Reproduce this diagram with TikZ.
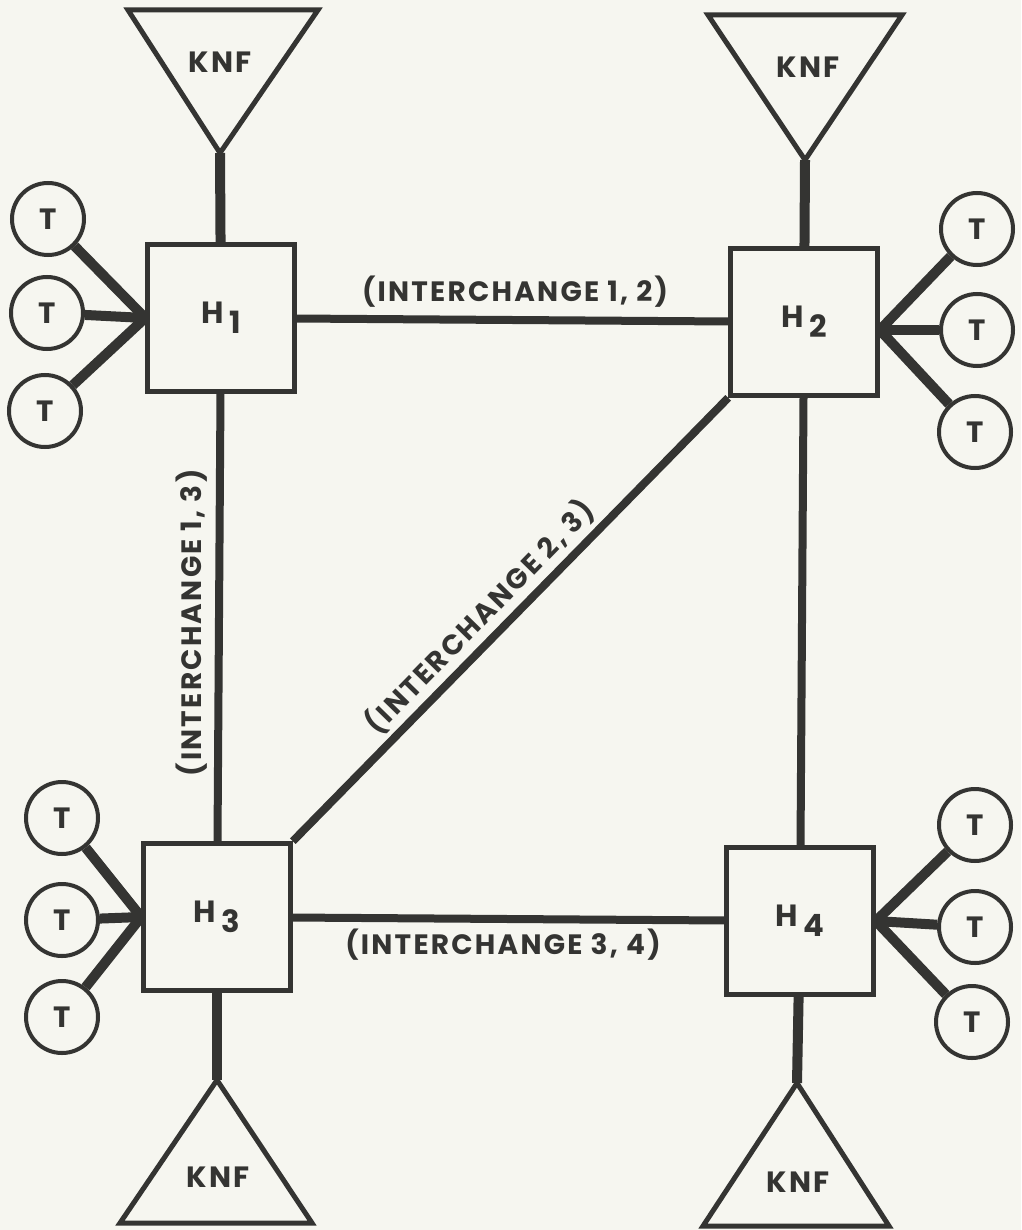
\documentclass[tikz,border=0pt]{standalone}
\usepackage{fontspec}
\newfontfamily\lab{Poppins}[LetterSpace=8]
\newfontfamily\labn{Poppins}
\definecolor{paper}{RGB}{246,246,240}
\definecolor{ink}{RGB}{52,52,50}
\begin{document}
\begin{tikzpicture}[x=0.75pt,y=-0.75pt,
  hub/.style={draw=ink,fill=paper,line width=3.75pt,minimum size=110pt,inner sep=0pt,font=\labn\bfseries\fontsize{23}{23}\selectfont,text=ink},
  term/.style={circle,draw=ink,fill=paper,line width=3pt,minimum size=54pt,inner sep=0pt,font=\labn\bfseries\fontsize{22}{22}\selectfont,text=ink},
  knf/.style={draw=ink,fill=paper,line width=3.75pt,line join=miter},
  knftxt/.style={font=\lab\bfseries\fontsize{22}{22}\selectfont,text=ink,inner sep=0pt},
  stem/.style={draw=ink,line width=7.5pt},
  tlink/.style={draw=ink,line width=7.5pt},
  xlink/.style={draw=ink,line width=6pt},
  lbl/.style={font=\lab\bfseries\fontsize{21}{21}\selectfont,text=ink,inner sep=0pt}
]
\fill[paper] (0,0) rectangle (1021,1230);
\useasboundingbox (0,0) rectangle (1021,1230);

% triangles (KNF)
\draw[knf] (128,10) -- (318,10) -- (220,153) -- cycle;
\coordinate (k1) at (220,153);
\node[knftxt] (k1t) at (220,62) {KNF};
\draw[knf] (708,15) -- (902,15) -- (805,160) -- cycle;
\coordinate (k2) at (805,160);
\node[knftxt] (k2t) at (808,67) {KNF};
\draw[knf] (217,1080) -- (312,1223) -- (120,1223) -- cycle;
\coordinate (k3) at (217,1080);
\node[knftxt] (k3t) at (218,1177) {KNF};
\draw[knf] (797,1083) -- (889,1226) -- (703,1226) -- cycle;
\coordinate (k4) at (797,1083);
\node[knftxt] (k4t) at (798,1182) {KNF};

% hubs
\node[hub] (H1) at (221,318) {H\raisebox{-0.6ex}{\,1}};
\node[hub] (H2) at (804,322) {H\raisebox{-0.6ex}{\,2}};
\node[hub] (H3) at (217,917) {H\raisebox{-0.6ex}{\,3}};
\node[hub] (H4) at (800,921) {H\raisebox{-0.6ex}{\,4}};

% terminals
\node[term] (t11) at (48,219) {T};
\node[term] (t12) at (47,313) {T};
\node[term] (t13) at (45,411) {T};
\node[term] (t21) at (977,229) {T};
\node[term] (t22) at (977,330) {T};
\node[term] (t23) at (975,432) {T};
\node[term] (t31) at (62,818) {T};
\node[term] (t32) at (62,920) {T};
\node[term] (t33) at (62,1017) {T};
\node[term] (t41) at (975,825) {T};
\node[term] (t42) at (975,927) {T};
\node[term] (t43) at (972,1022) {T};

% stems
\path[stem] (H1) -- (k1);
\path[stem] (H2) -- (k2);
\path[stem] (H3) -- (k3);
\path[stem] (H4) -- (k4);

% terminal links
\foreach \t in {t11,t12,t13} \path[tlink] (\t) -- (H1.west);
\foreach \t in {t21,t22,t23} \path[tlink] (\t) -- ([yshift=-6pt]H2.east);
\foreach \t in {t31,t32,t33} \path[tlink] (\t) -- (H3.west);
\foreach \t in {t41,t42,t43} \path[tlink] (\t) -- (H4.east);

% interchanges
\path[xlink] (H1) -- (H2);
\path[xlink] (H1) -- (H3);
\path[xlink] (H2) -- (H4);
\path[xlink] (H3) -- (H4);
\path[xlink] (H3.north east) -- (H2.south west);

\node[lbl] (l12) at (515,292) {(INTERCHANGE 1, 2)};
\node[lbl] (l34) at (503,945) {(INTERCHANGE 3, 4)};
\node[lbl,rotate=90] (l13) at (192,623) {(INTERCHANGE 1, 3)};
\node[lbl,rotate=45.7] (l23) at (480,617) {(INTERCHANGE 2, 3)};
\end{tikzpicture}
\end{document}
